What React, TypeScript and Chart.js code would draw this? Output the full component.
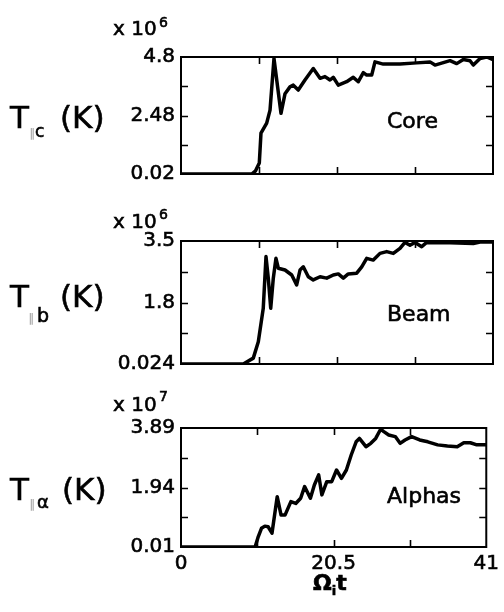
import React, { useEffect, useRef } from "react";
import { Chart, registerables } from "chart.js";

Chart.register(...registerables);

// ---------- shared x axis ----------
const xMin = 0;
const xMax = 41;
const xTickValues = [0, 10.25, 20.5, 30.75, 41];
const xTickLabels = ["0", "", "20.5", "", "41"];

// ---------- Core (x 10^6 K) ----------
const coreTime = [0, 9.3, 9.8, 10.29, 10.51, 11.26, 11.7, 12.22, 12.58, 13.14, 13.67, 14.32, 14.76, 15.41, 16.29, 17.38, 18.27, 18.92, 19.58, 20.01, 20.67, 21.77, 22.64, 23.3, 23.96, 24.4, 25.06, 25.49, 26.58, 28.78, 30.97, 32.72, 33.38, 35.35, 36.23, 37.1, 37.98, 38.41, 39.3, 40.17, 41];
const coreTemp = [0.02, 0.02, 0.15, 0.47, 1.69, 2.1, 2.63, 4.74, 3.86, 2.5, 3.3, 3.58, 3.65, 3.45, 3.86, 4.33, 3.93, 4.0, 3.86, 3.97, 3.65, 3.79, 3.97, 3.79, 4.16, 4.06, 4.06, 4.6, 4.51, 4.51, 4.56, 4.6, 4.47, 4.65, 4.53, 4.7, 4.65, 4.47, 4.74, 4.8, 4.69];
const coreYMin = 0.02;
const coreYMax = 4.8;
const coreTickLabels = ["0.02", "", "2.48", "", "4.8"];

// ---------- Beam (x 10^6 K) ----------
const beamTime = [0, 8.19, 9.5, 10.16, 10.81, 11.17, 11.47, 11.79, 12.13, 12.48, 12.79, 13.67, 14.55, 15.2, 15.64, 16.07, 16.73, 17.38, 18.27, 19.15, 20.01, 20.67, 21.33, 21.98, 23.09, 23.75, 24.4, 25.27, 26.15, 27.03, 27.9, 28.78, 29.43, 30.09, 30.75, 31.63, 32.29, 35.35, 38.41, 39.3, 41];
const beamTemp = [0.024, 0.024, 0.19, 0.65, 1.6, 3.06, 2.45, 1.6, 2.45, 3.01, 2.73, 2.68, 2.54, 2.26, 2.68, 2.77, 2.49, 2.4, 2.49, 2.45, 2.54, 2.57, 2.45, 2.57, 2.59, 2.77, 3.01, 2.96, 3.15, 3.2, 3.15, 3.29, 3.46, 3.38, 3.46, 3.34, 3.46, 3.45, 3.43, 3.47, 3.47];
const beamYMin = 0.024;
const beamYMax = 3.5;
const beamTickLabels = ["0.024", "", "1.8", "", "3.5"];

// ---------- Alphas (x 10^7 K) ----------
const alphaTime = [0, 9.95, 10.38, 10.81, 11.26, 11.7, 12.22, 12.92, 13.44, 13.97, 14.76, 15.41, 16.07, 16.6, 17.38, 17.91, 18.49, 18.92, 19.58, 20.24, 20.89, 21.55, 22.21, 22.86, 23.52, 23.96, 24.84, 25.49, 26.15, 26.81, 27.24, 27.9, 28.78, 29.43, 30.09, 30.97, 32.06, 33.15, 34.47, 35.78, 37.1, 37.98, 38.86, 39.73, 41];
const alphaTemp = [0.01, 0.01, 0.35, 0.62, 0.69, 0.67, 0.46, 1.65, 1.05, 1.05, 1.49, 1.43, 1.6, 1.98, 1.6, 2.03, 2.36, 1.71, 2.14, 2.14, 2.52, 2.25, 2.52, 3.01, 3.44, 3.55, 3.28, 3.39, 3.55, 3.85, 3.77, 3.66, 3.61, 3.39, 3.5, 3.61, 3.5, 3.44, 3.34, 3.3, 3.28, 3.41, 3.41, 3.34, 3.34];
const alphaYMin = 0.01;
const alphaYMax = 3.89;
const alphaTickLabels = ["0.01", "", "1.94", "", "3.89"];

const FONT = "'DejaVu Sans', 'Liberation Sans', sans-serif";
const INK = "#000";

type Seg = { text: string; x?: number; y: number; size: number; bold?: boolean; color?: string };

function drawSegs(ctx: CanvasRenderingContext2D, segs: Seg[], offsetY: number) {
  let cx = 0;
  for (const s of segs) {
    ctx.font = `${s.bold ? "bold " : ""}${s.size}px ${FONT}`;
    ctx.fillStyle = s.color || INK;
    ctx.strokeStyle = s.color || INK;
    ctx.lineWidth = 0.6;
    ctx.textAlign = "left";
    ctx.textBaseline = "alphabetic";
    const x = s.x !== undefined ? s.x : cx;
    ctx.fillText(s.text, x, s.y - offsetY);
    if (!s.color) ctx.strokeText(s.text, x, s.y - offsetY);
    cx = x + ctx.measureText(s.text).width;
  }
}

const framePlugin = {
  id: "frameAndText",
  afterDraw(chart: any, _args: any, opts: any) {
    const { ctx, chartArea: a, scales } = chart;
    const xs = scales.x;
    const ys = scales.y;
    ctx.save();
    ctx.strokeStyle = "#000";
    ctx.lineWidth = 2;
    ctx.strokeRect(a.left, a.top, a.right - a.left, a.bottom - a.top);
    ctx.lineWidth = 1.6;
    ctx.beginPath();
    xTickValues.slice(1, -1).forEach((v) => {
      const px = Math.round(xs.getPixelForValue(v)) + 0.5;
      ctx.moveTo(px, a.bottom);
      ctx.lineTo(px, a.bottom - 7);
      ctx.moveTo(px, a.top);
      ctx.lineTo(px, a.top + 7);
    });
    (opts.yTicks as number[]).slice(1, -1).forEach((v) => {
      const py = Math.round(ys.getPixelForValue(v)) + 0.5;
      ctx.moveTo(a.left, py);
      ctx.lineTo(a.left + 7, py);
      ctx.moveTo(a.right, py);
      ctx.lineTo(a.right - 7, py);
    });
    ctx.stroke();
    (opts.groups as Seg[][]).forEach((g) => drawSegs(ctx, g, opts.offsetY));
    ctx.restore();
  },
};

type PanelProps = {
  top: number;
  height: number;
  plotTop: number;
  plotBottom: number;
  time: number[];
  temp: number[];
  yMin: number;
  yMax: number;
  yLabels: string[];
  showX: boolean;
  groups: Seg[][];
};

function Panel(p: PanelProps) {
  const ref = useRef<HTMLCanvasElement>(null);
  useEffect(() => {
    const yTicks = [0, 1, 2, 3, 4].map((i) => p.yMin + (i * (p.yMax - p.yMin)) / 4);
    const padTop = p.plotTop - p.top;
    const xAxisHeight = p.showX ? p.top + p.height - p.plotBottom : 0;
    const padBottom = p.showX ? 0 : p.top + p.height - p.plotBottom;
    const chart = new Chart(ref.current as HTMLCanvasElement, {
      type: "line",
      data: {
        datasets: [
          {
            data: p.time.map((t, i) => ({ x: t, y: p.temp[i] })),
            borderColor: "#000",
            borderWidth: 3.5,
            pointRadius: 0,
            tension: 0,
            fill: false,
            borderJoinStyle: "round",
            borderCapStyle: "round",
          },
        ],
      },
      options: {
        animation: false,
        responsive: false,
        maintainAspectRatio: false,
        devicePixelRatio: 1,
        layout: { padding: { left: 0, right: 11, top: padTop, bottom: padBottom } },
        plugins: {
          legend: { display: false },
          tooltip: { enabled: false },
          frameAndText: { yTicks, groups: p.groups, offsetY: p.top },
        } as any,
        scales: {
          x: {
            type: "linear",
            min: xMin,
            max: xMax,
            display: p.showX,
            afterBuildTicks: (s: any) => {
              s.ticks = xTickValues.map((v) => ({ value: v }));
            },
            afterFit: (s: any) => {
              if (p.showX) s.height = xAxisHeight;
            },
            grid: { display: false, drawTicks: false },
            border: { display: false },
            ticks: {
              autoSkip: false,
              maxRotation: 0,
              padding: 5,
              color: INK,
              textStrokeColor: INK,
              textStrokeWidth: 0.6,
              font: { family: FONT, size: 20 },
              callback: (_v: any, i: number) => xTickLabels[i],
            },
          },
          y: {
            type: "linear",
            min: p.yMin,
            max: p.yMax,
            afterBuildTicks: (s: any) => {
              s.ticks = yTicks.map((v) => ({ value: v }));
            },
            afterFit: (s: any) => {
              s.width = 181;
            },
            grid: { display: false, drawTicks: false },
            border: { display: false },
            ticks: {
              autoSkip: false,
              padding: 6,
              color: INK,
              textStrokeColor: INK,
              textStrokeWidth: 0.6,
              font: { family: FONT, size: 20 },
              callback: (_v: any, i: number) => p.yLabels[i],
            },
          },
        },
      } as any,
      plugins: [framePlugin],
    });
    return () => chart.destroy();
  }, []);
  return (
    <canvas
      ref={ref}
      width={504}
      height={p.height}
      style={{ position: "absolute", left: 0, top: p.top, width: 504, height: p.height, display: "block" }}
    />
  );
}

export default function App() {
  const coreGroups: Seg[][] = [
    [
      { text: "x 10", x: 113, y: 35, size: 20 },
      { text: "6", x: 159, y: 27, size: 14 },
    ],
    [
      { text: "T", x: 10, y: 128, size: 31 },
      { text: "\u2225", x: 29, y: 137, size: 12, color: "#999" },
      { text: "c", x: 35, y: 137, size: 17 },
      { text: "(K)", x: 60, y: 128, size: 31 },
    ],
    [{ text: "Core", x: 387, y: 128, size: 22 }],
  ];
  const beamGroups: Seg[][] = [
    [
      { text: "x 10", x: 113, y: 228, size: 20 },
      { text: "6", x: 159, y: 219, size: 14 },
    ],
    [
      { text: "T", x: 10, y: 307, size: 31 },
      { text: "\u2225", x: 28, y: 322, size: 12, color: "#999" },
      { text: "b", x: 37, y: 322, size: 19 },
      { text: "(K)", x: 60, y: 307, size: 31 },
    ],
    [{ text: "Beam", x: 387, y: 321, size: 22 }],
  ];
  const alphaGroups: Seg[][] = [
    [
      { text: "x 10", x: 113, y: 411, size: 20 },
      { text: "7", x: 159, y: 401, size: 14 },
    ],
    [
      { text: "T", x: 10, y: 500, size: 31 },
      { text: "\u2225", x: 29, y: 508, size: 12, color: "#999" },
      { text: "\u03B1", x: 37, y: 508, size: 18 },
      { text: "(K)", x: 62, y: 500, size: 31 },
    ],
    [{ text: "Alphas", x: 387, y: 503, size: 22 }],
    [
      { text: "\u03A9", x: 313, y: 590, size: 22, bold: true },
      { text: "i", y: 595, size: 13, bold: true },
      { text: "t", y: 590, size: 22, bold: true },
    ],
  ];
  return (
    <div style={{ position: "absolute", left: 0, top: 0, width: 504, height: 612, background: "#fff" }}>
      <Panel top={0} height={195} plotTop={57} plotBottom={174} time={coreTime} temp={coreTemp} yMin={coreYMin} yMax={coreYMax} yLabels={coreTickLabels} showX={false} groups={coreGroups} />
      <Panel top={195} height={195} plotTop={241} plotBottom={364} time={beamTime} temp={beamTemp} yMin={beamYMin} yMax={beamYMax} yLabels={beamTickLabels} showX={false} groups={beamGroups} />
      <Panel top={390} height={222} plotTop={428} plotBottom={547} time={alphaTime} temp={alphaTemp} yMin={alphaYMin} yMax={alphaYMax} yLabels={alphaTickLabels} showX={true} groups={alphaGroups} />
    </div>
  );
}
